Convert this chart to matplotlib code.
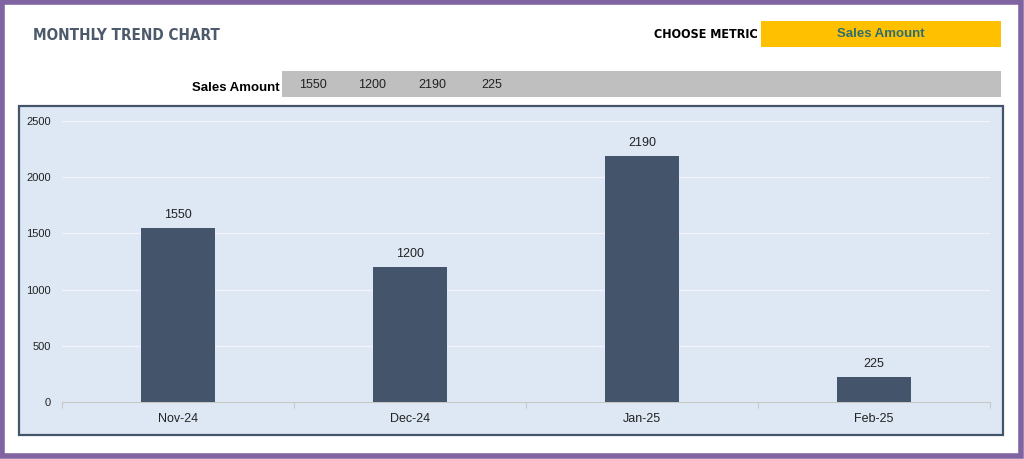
import matplotlib.pyplot as plt
from matplotlib.patches import Rectangle

months = ["Nov-24", "Dec-24", "Jan-25", "Feb-25"]
sales = [1550, 1200, 2190, 225]
y_ticks = [0, 500, 1000, 1500, 2000, 2500]
metric = "Sales Amount"

W, H = 1024, 459
NARROW = ["DejaVu Sans Condensed", "DejaVu Sans"]
ARIAL = ["Liberation Sans", "DejaVu Sans"]


def px(x, y):
    # pixel coords (top-left origin) -> figure fraction
    return x / W, 1 - y / H


def box(x0, y0, x1, y1, **kw):
    fx0, fy1 = px(x0, y1)
    fig.add_artist(Rectangle((fx0, fy1), (x1 - x0) / W, (y1 - y0) / H,
                             transform=fig.transFigure, zorder=-1, **kw))


fig = plt.figure(figsize=(W / 100, H / 100), dpi=100)
fig.patch.set_facecolor("white")

# purple frame
box(2, 2, 1021, 456, facecolor="none", edgecolor="#8064A2", linewidth=4)

# header
fig.text(*px(33, 35), "MONTHLY TREND CHART", family=NARROW, stretch="condensed",
         fontsize=11, fontweight="bold", color="#4D5A6B", va="center", ha="left")
fig.text(*px(758, 34), "CHOOSE METRIC", family=NARROW, stretch="condensed",
         fontsize=9, fontweight="bold", color="black", va="center", ha="right")
box(761, 21, 1001, 47, facecolor="#FFC000", edgecolor="none")
fig.text(*px(881, 34), metric, family=ARIAL, fontsize=9.5,
         fontweight="bold", color="#2E6E73", va="center", ha="center")

# value strip
box(282, 71, 1001, 97, facecolor="#BFBFBF", edgecolor="none")
fig.text(*px(280, 88), metric, family=ARIAL, fontsize=9.5,
         fontweight="bold", color="black", va="center", ha="right")
for i, v in enumerate(sales):
    fig.text(*px(313 + i * 59.5, 85), str(v), family=ARIAL, fontsize=9,
             color="#222222", va="center", ha="center")

# chart panel
box(19, 106, 1003, 435, facecolor="#DEE8F4", edgecolor="#44546A", linewidth=1.6)

l, b = px(62, 402)
r, t = px(990, 121)
ax = fig.add_axes([l, b, r - l, t - b])
ax.set_zorder(2)
ax.set_facecolor("none")
x = range(len(months))
bars = ax.bar(x, sales, width=0.315, color="#44546A", zorder=3)
for rect, v in zip(bars, sales):
    ax.annotate(str(v), (rect.get_x() + rect.get_width() / 2, v),
                xytext=(0, 5), textcoords="offset points", ha="center",
                va="bottom", fontsize=9, family=ARIAL, color="#222222")

ax.set_xlim(-0.5, len(months) - 0.5)
ax.set_ylim(0, 2500)
ax.set_yticks(y_ticks)
ax.set_yticklabels([str(v) for v in y_ticks], family=ARIAL, fontsize=8,
                   color="#222222")
ax.set_xticks(list(x))
ax.set_xticklabels(months, family=ARIAL, fontsize=9, color="#222222")
ax.tick_params(axis="y", length=0, pad=8)
ax.tick_params(axis="x", length=0, pad=8)
ax.set_xticks([i - 0.5 for i in range(len(months) + 1)], minor=True)
ax.tick_params(axis="x", which="minor", length=4, color="#C8C8C8", width=0.8)
ax.grid(axis="y", color="#F2F6FB", linewidth=0.8, zorder=0)
for s in ["top", "right", "left"]:
    ax.spines[s].set_visible(False)
ax.spines["bottom"].set_color("#C8C8C8")
ax.spines["bottom"].set_linewidth(0.8)

fig.savefig("out.png", dpi=100)
